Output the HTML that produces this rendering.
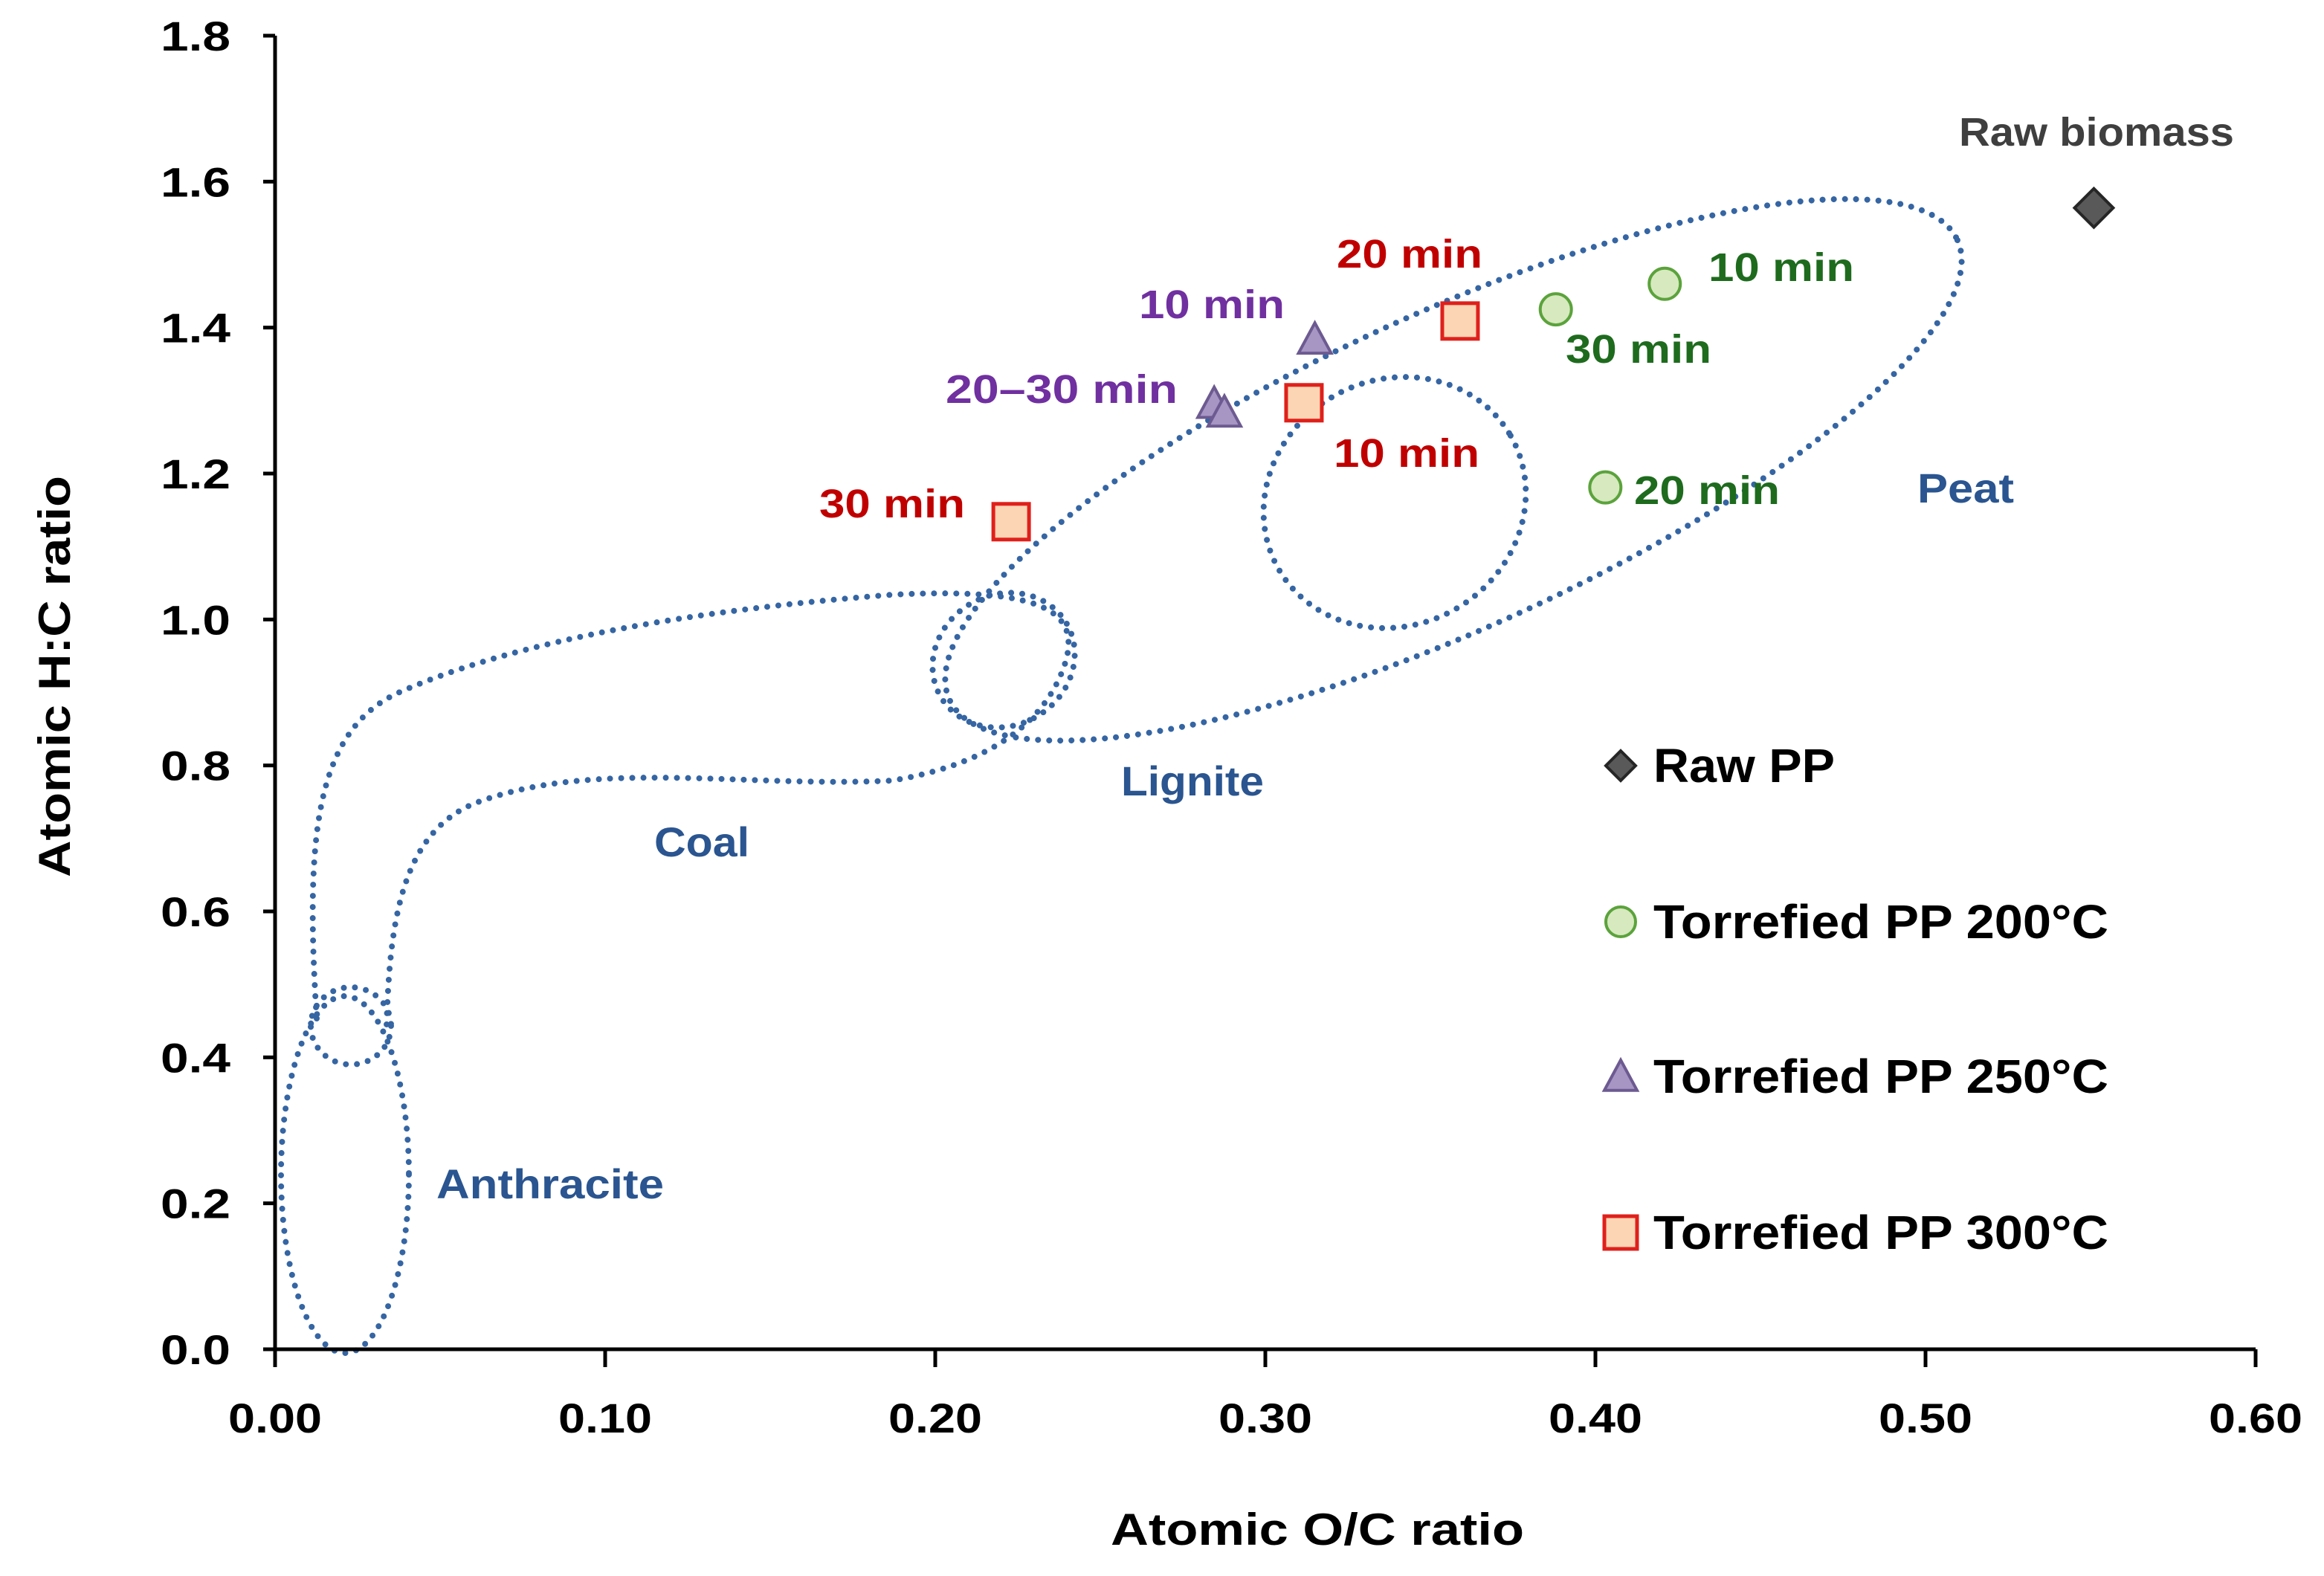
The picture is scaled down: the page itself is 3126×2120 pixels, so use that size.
<!DOCTYPE html>
<html><head><meta charset="utf-8"><style>
html,body{margin:0;padding:0;background:#fff}
svg{display:block}
text{font-family:"Liberation Sans",sans-serif;font-weight:bold}
</style></head><body>
<svg id="chart" width="3126" height="2120" viewBox="0 0 3126 2120" xmlns="http://www.w3.org/2000/svg">
<g id="regions" fill="none" stroke="#3565a3" stroke-width="8" stroke-linecap="round" stroke-dasharray="0 15">
<ellipse cx="1955" cy="632" rx="745" ry="212" transform="rotate(-24.5 1955 632)"/>
<ellipse cx="1876" cy="676" rx="180" ry="165" transform="rotate(-30 1876 676)"/>
<ellipse cx="1350" cy="888" rx="98" ry="88" transform="rotate(-30 1350 888)"/>
<path d="M426,1370 C410,1120 425,980 540,930 C700,860 940,820 1200,800 C1400,790 1460,820 1430,900 C1400,980 1320,1030 1200,1050 C1000,1060 800,1020 640,1080 C540,1120 524,1240 520,1380"/>
<ellipse cx="472" cy="1380" rx="54" ry="52"/>
<ellipse cx="464" cy="1580" rx="86" ry="240"/>
</g>
<g id="region-labels" font-size="56" fill="#2a5590">
<text x="944" y="1152" text-anchor="middle" textLength="128" lengthAdjust="spacingAndGlyphs">Coal</text>
<text x="1604" y="1070" text-anchor="middle" textLength="192" lengthAdjust="spacingAndGlyphs">Lignite</text>
<text x="2644" y="676" text-anchor="middle" textLength="130" lengthAdjust="spacingAndGlyphs">Peat</text>
<text x="740" y="1612" text-anchor="middle" textLength="306" lengthAdjust="spacingAndGlyphs">Anthracite</text>
</g>
<g id="axes"></g>
<g id="marks"></g>
<g id="legend"></g>
</svg>
<script>
const xTicks=[0,0.1,0.2,0.3,0.4,0.5,0.6];
const xTickLabels=["0.00","0.10","0.20","0.30","0.40","0.50","0.60"];
const yTicks=[0,0.2,0.4,0.6,0.8,1.0,1.2,1.4,1.6,1.8];
const yTickLabels=["0.0","0.2","0.4","0.6","0.8","1.0","1.2","1.4","1.6","1.8"];
const rawX=[0.551];const rawY=[1.564];
const t200X=[0.421,0.388,0.403];const t200Y=[1.46,1.425,1.181];
const t250X=[0.315,0.2845,0.2876];const t250Y=[1.384,1.296,1.284];
const t300X=[0.359,0.3117,0.223];const t300Y=[1.409,1.297,1.134];
const X0=370,X1=3034,Y0=1815,Y1=48;
const sx=v=>X0+(v-0)/(0.6)*(X1-X0);
const sy=v=>Y0-(v/1.8)*(Y0-Y1);
const NS="http://www.w3.org/2000/svg";
function mk(tag,attrs,parent,txt){const e=document.createElementNS(NS,tag);for(const k in attrs)e.setAttribute(k,attrs[k]);if(txt!==undefined)e.textContent=txt;parent.appendChild(e);return e;}
const axes=document.getElementById('axes');
let l=mk('line',{x1:X0,y1:Y0,x2:X1,y2:Y0,stroke:'#000','stroke-width':5},axes);


l=mk('line',{x1:X0,y1:Y0,x2:X0,y2:Y1,stroke:'#000','stroke-width':5},axes);


xTicks.forEach((v,i)=>{const x=sx(v);
 const t=mk('line',{x1:x,y1:Y0,x2:x,y2:Y0+24,stroke:'#000','stroke-width':5},axes);
 
 
 const tx=mk('text',{x:x,y:Y0+112,'text-anchor':'middle','font-size':56,fill:'#000',textLength:126,lengthAdjust:'spacingAndGlyphs'},axes,xTickLabels[i]);
 
 });
yTicks.forEach((v,i)=>{const y=sy(v);
 const t=mk('line',{x1:X0-16,y1:y,x2:X0,y2:y,stroke:'#000','stroke-width':5},axes);
 
 
 const tx=mk('text',{x:X0-60,y:y+20,'text-anchor':'end','font-size':56,fill:'#000',textLength:94,lengthAdjust:'spacingAndGlyphs'},axes,yTickLabels[i]);
 
 });
let at=mk('text',{x:1772,y:2078,'text-anchor':'middle','font-size':60,fill:'#000',textLength:556,lengthAdjust:'spacingAndGlyphs'},axes,'Atomic O/C ratio');


at=mk('text',{x:0,y:0,'text-anchor':'middle','font-size':60,fill:'#000',textLength:540,lengthAdjust:'spacingAndGlyphs',transform:'translate(94 910) rotate(-90)'},axes,'Atomic H:C ratio');



const marks=document.getElementById('marks');
function diamond(x,y,s,p){return mk('polygon',{points:`${x},${y-s} ${x+s},${y} ${x},${y+s} ${x-s},${y}`,fill:'#595959',stroke:'#262626','stroke-width':4},p);}
function circle(x,y,r,p){return mk('circle',{cx:x,cy:y,r:r,fill:'#d7e9bf',stroke:'#5ba33c','stroke-width':4},p);}
function tri(x,y,s,p){return mk('polygon',{points:`${x},${y-s} ${x+s},${y+s*0.85} ${x-s},${y+s*0.85}`,fill:'#a795c4',stroke:'#6c5a90','stroke-width':4},p);}
function sq(x,y,s,p){return mk('rect',{x:x-s,y:y-s,width:2*s,height:2*s,fill:'#fcd5b4',stroke:'#e0201b','stroke-width':5},p);}
rawX.forEach((v,i)=>{const e=diamond(sx(v),sy(rawY[i]),26,marks);
 
 });
t200X.forEach((v,i)=>{const e=circle(sx(v),sy(t200Y[i]),21,marks);
 
 });
t250X.forEach((v,i)=>{const e=tri(sx(v),sy(t250Y[i]),22,marks);
 
 });
t300X.forEach((v,i)=>{const e=sq(sx(v),sy(t300Y[i]),24,marks);
 
 });

const anns=[["Raw biomass",2820,196,"#3f3f3f",370],["10 min",2396,378,"#1e6b1e",196],["30 min",2204,488,"#1e6b1e",196],["20 min",2296,678,"#1e6b1e",196],
["10 min",1630,428,"#7030a0",196],["20\u201330 min",1428,542,"#7030a0",312],["20 min",1896,360,"#c00000",196],["10 min",1892,628,"#c00000",196],["30 min",1200,696,"#c00000",196]];
anns.forEach(a=>{const e=mk('text',{x:a[1],y:a[2],'text-anchor':'middle','font-size':54,fill:a[3],textLength:a[4],lengthAdjust:'spacingAndGlyphs'},marks,a[0]);
 
 });

const lg=document.getElementById('legend');
const legItems=[["Raw PP",1030],["Torrefied PP 200°C",1240],["Torrefied PP 250°C",1448],["Torrefied PP 300°C",1658]];
legItems.forEach((it,i)=>{const y=it[1];let m;
 if(i==0)m=diamond(2180,y,20,lg);else if(i==1)m=circle(2180,y,20,lg);else if(i==2)m=tri(2180,y,22,lg);else m=sq(2180,y,22,lg);
 
 
 const w=i==0?244:612;
 const t=mk('text',{x:2224,y:y+22,'font-size':64,fill:'#000',textLength:w,lengthAdjust:'spacingAndGlyphs'},lg,it[0]);
 
 });
</script>
</body></html>
